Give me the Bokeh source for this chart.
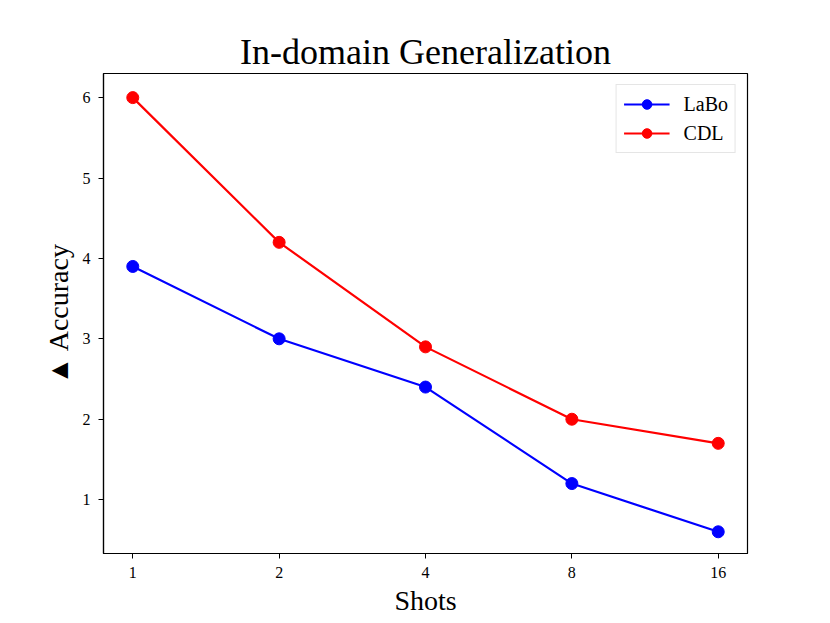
from bokeh.plotting import figure
from bokeh.models import FixedTicker, Range1d, Legend, LegendItem
from bokeh.embed import file_html
from bokeh.resources import INLINE

shots = ["1", "2", "4", "8", "16"]
labo = [3.9, 3.0, 2.4, 1.2, 0.6]
cdl = [6.0, 4.2, 2.9, 2.0, 1.7]

xs = list(range(len(shots)))
FONT = "Liberation Serif"

p = figure(width=822, height=619, output_backend="svg", toolbar_location=None,
           x_range=Range1d(-0.2, 4.2), y_range=Range1d(0.33, 6.3),
           min_border_left=103, min_border_right=75, min_border_top=73, min_border_bottom=66)

p.title.text = "In-domain Generalization"
p.title.text_font = FONT
p.title.text_font_size = "36px"
p.title.text_font_style = "normal"
p.title.text_color = "black"
p.title.align = "center"
p.title.standoff = 4

p.xgrid.visible = False
p.ygrid.visible = False
p.outline_line_color = "black"
p.outline_line_width = 1.2
p.background_fill_color = "white"
p.border_fill_color = "white"

for ax in (p.xaxis[0], p.yaxis[0]):
    ax.axis_line_color = "black"
    ax.axis_line_width = 1.2
    ax.major_tick_line_color = "black"
    ax.major_tick_in = 0
    ax.major_tick_out = 5
    ax.minor_tick_line_color = None
    ax.major_label_text_font = FONT
    ax.major_label_text_font_size = "16px"
    ax.major_label_text_color = "black"
    ax.axis_label_text_font = FONT
    ax.axis_label_text_font_size = "28px"
    ax.axis_label_text_font_style = "normal"
    ax.axis_label_text_color = "black"

p.xaxis.ticker = FixedTicker(ticks=xs)
p.xaxis.major_label_overrides = {i: s for i, s in zip(xs, shots)}
p.xaxis.major_label_standoff = 8
p.xaxis.axis_label = "Shots"
p.xaxis.axis_label_standoff = 4
p.yaxis.ticker = FixedTicker(ticks=[1, 2, 3, 4, 5, 6])
p.yaxis.major_label_standoff = 8
p.yaxis.axis_label = "\u25b2 Accuracy"
p.yaxis.axis_label_standoff = 6

l1 = p.line(xs, labo, line_color="blue", line_width=2.2)
s1 = p.scatter(xs, labo, size=12, fill_color="blue", line_color="blue")
l2 = p.line(xs, cdl, line_color="red", line_width=2.2)
s2 = p.scatter(xs, cdl, size=12, fill_color="red", line_color="red")

legend = Legend(items=[LegendItem(label="LaBo", renderers=[l1, s1]),
                       LegendItem(label="CDL", renderers=[l2, s2])],
                location="top_right")
legend.label_text_font = FONT
legend.label_text_font_size = "20px"
legend.label_text_color = "black"
legend.border_line_color = "#cccccc"
legend.border_line_width = 1.2
legend.margin = 11
legend.padding = 7
legend.spacing = 5
legend.glyph_width = 46
legend.glyph_height = 24
legend.label_height = 24
legend.label_standoff = 14
legend.background_fill_alpha = 0.8
p.add_layout(legend)

open("out.html", "w").write(file_html(p, INLINE))
